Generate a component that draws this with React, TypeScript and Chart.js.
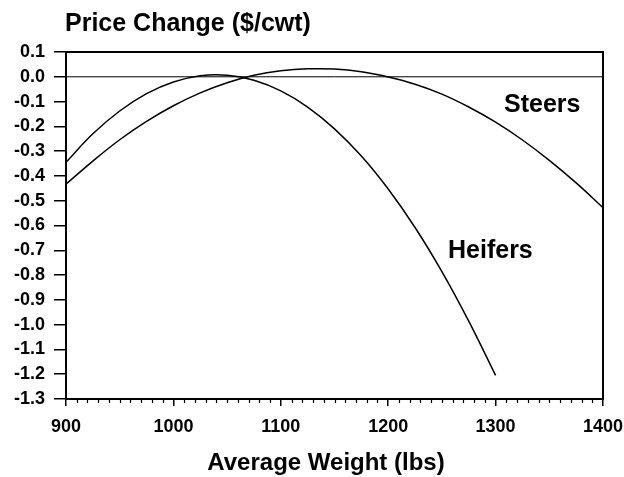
import React, { useEffect, useRef } from "react";
import { Chart, registerables } from "chart.js";

Chart.register(...registerables);

const heiferWeights = [900, 925, 950, 975, 1000, 1025, 1050, 1075, 1100, 1125, 1150, 1175, 1200, 1225, 1250, 1275, 1300];
const heiferChange = [-0.345, -0.23, -0.138, -0.068, -0.021, 0.004, 0.006, -0.014, -0.057, -0.122, -0.21, -0.32, -0.453, -0.608, -0.786, -0.986, -1.205];

const steerWeights = [900, 925, 950, 975, 1000, 1025, 1050, 1075, 1100, 1125, 1150, 1175, 1200, 1225, 1250, 1275, 1300, 1325, 1350, 1375, 1400];
const steerChange = [-0.433, -0.34, -0.254, -0.18, -0.117, -0.065, -0.024, 0.006, 0.024, 0.032, 0.031, 0.02, -0.001, -0.03, -0.07, -0.122, -0.183, -0.255, -0.337, -0.428, -0.528];

const yTitle = "Price Change ($/cwt)";
const xTitle = "Average Weight (lbs)";
const seriesLabels = ["Heifers", "Steers"];

const FONT = '"Liberation Sans", Arial, sans-serif';

const framePlugin = {
  id: "frameAndText",
  afterDatasetsDraw(chart: any) {
    const { ctx, chartArea, scales } = chart;
    const xs = scales.x;
    const ys = scales.y;
    ctx.save();
    // zero line
    const y0 = ys.getPixelForValue(0);
    ctx.strokeStyle = "#000";
    ctx.lineWidth = 1;
    ctx.beginPath();
    ctx.moveTo(chartArea.left, y0);
    ctx.lineTo(chartArea.right, y0);
    ctx.stroke();
    // frame
    ctx.lineWidth = 2;
    ctx.strokeRect(chartArea.left, chartArea.top, chartArea.right - chartArea.left, chartArea.bottom - chartArea.top);
    // minor ticks
    ctx.lineWidth = 1.2;
    ctx.beginPath();
    for (let v = 910; v < 1400; v += 10) {
      if (v % 100 === 0) continue;
      const px = Math.round(xs.getPixelForValue(v)) + 0.5;
      ctx.moveTo(px, chartArea.bottom);
      ctx.lineTo(px, chartArea.bottom + 4);
    }
    ctx.stroke();
    // texts
    ctx.fillStyle = "#000";
    ctx.textBaseline = "alphabetic";
    ctx.textAlign = "left";
    ctx.font = `bold 25px ${FONT}`;
    ctx.fillText(yTitle, 65, 31);
    ctx.fillText(seriesLabels[1], 504, 112);
    ctx.fillText(seriesLabels[0], 448, 258);
    ctx.font = `bold 24px ${FONT}`;
    ctx.textAlign = "center";
    ctx.fillText(xTitle, 326, 470);
    ctx.restore();
  },
};

export default function App() {
  const ref = useRef<HTMLCanvasElement | null>(null);
  useEffect(() => {
    if (!ref.current) return;
    const chart = new Chart(ref.current, {
      type: "line",
      data: {
        datasets: [
          {
            label: seriesLabels[0],
            data: heiferWeights.map((w, i) => ({ x: w, y: heiferChange[i] })),
            borderColor: "#000",
            borderWidth: 1.5,
            pointRadius: 0,
            tension: 0.4,
            fill: false,
          },
          {
            label: seriesLabels[1],
            data: steerWeights.map((w, i) => ({ x: w, y: steerChange[i] })),
            borderColor: "#000",
            borderWidth: 1.5,
            pointRadius: 0,
            tension: 0.4,
            fill: false,
          },
        ],
      },
      options: {
        animation: false,
        responsive: false,
        layout: { padding: { top: 52, right: 21, left: 0, bottom: 0 } },
        plugins: { legend: { display: false }, tooltip: { enabled: false }, title: { display: false } },
        scales: {
          x: {
            type: "linear",
            min: 900,
            max: 1400,
            afterFit: (s: any) => {
              s.height = 78;
              s.paddingLeft = 0;
              s.paddingRight = 0;
            },
            ticks: {
              stepSize: 100,
              color: "#000",
              padding: 10,
              maxRotation: 0,
              font: { family: FONT, size: 18, weight: "bold" },
              callback: (v: any) => String(Math.round(Number(v))),
            },
            grid: { drawOnChartArea: false, drawTicks: true, tickLength: 7, color: "#000", lineWidth: 1.5 },
            border: { display: false },
          },
          y: {
            type: "linear",
            min: -1.3,
            max: 0.1,
            afterFit: (s: any) => {
              s.width = 66;
              s.paddingTop = 0;
              s.paddingBottom = 0;
            },
            ticks: {
              stepSize: 0.1,
              color: "#000",
              padding: 9,
              font: { family: FONT, size: 18, weight: "bold" },
              callback: (v: any) => (Math.abs(v) < 1e-9 ? "0.0" : Number(v).toFixed(1)),
            },
            grid: { drawOnChartArea: false, drawTicks: true, tickLength: 12, color: "#000", lineWidth: 1.5 },
            border: { display: false },
          },
        },
      },
      plugins: [framePlugin],
    });
    return () => chart.destroy();
  }, []);
  return (
    <div style={{ position: "absolute", left: 0, top: 0, width: 624, height: 477, background: "#fff" }}>
      <canvas ref={ref} width={624} height={477} style={{ display: "block" }} />
    </div>
  );
}
